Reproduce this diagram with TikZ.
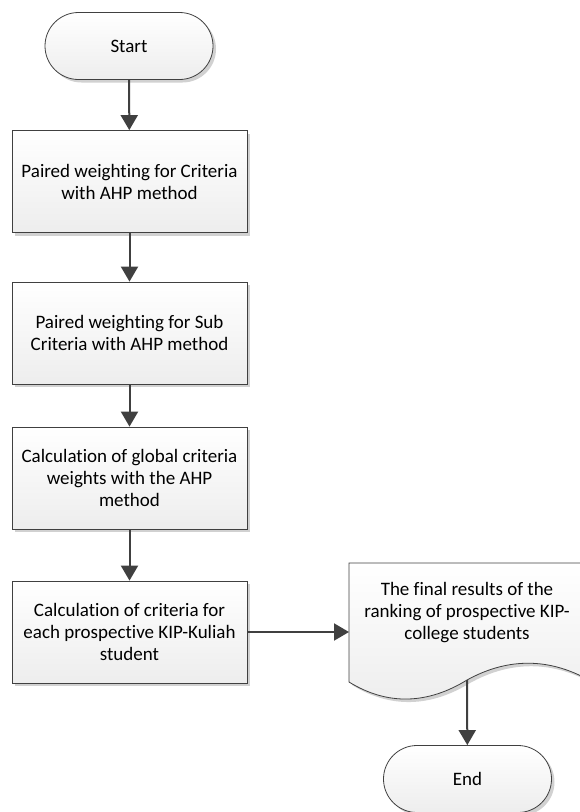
\documentclass[tikz,border=0pt]{standalone}
\usepackage{fontspec}
\setmainfont{Carlito}[Ligatures=NoCommon]
\usetikzlibrary{arrows.meta,shapes.misc,shadows}
\definecolor{edge}{HTML}{404040}
\tikzset{
  every node/.style={font=\fontsize{19}{22}\selectfont, align=center},
  shade/.style={draw=edge, line width=0.8pt, top color=white, bottom color=black!7,
    drop shadow={shadow xshift=3pt, shadow yshift=-3pt, fill=black!18, opacity=1}},
  box/.style={shade, rectangle, minimum width=235pt, minimum height=102pt, inner sep=0pt},
  term/.style={box, rounded rectangle, minimum width=168pt, minimum height=67pt},
  flow/.style={draw=edge, line width=2pt, -{Triangle[length=15pt,width=17pt]}},
}
\begin{document}
\begin{tikzpicture}[x=1pt,y=-1pt]
      \useasboundingbox (0,0) rectangle (579,812);
      \draw
        (129,46) node[term] (start){Start}
        (129.5,181.5) node[box] (crit){Paired weighting for Criteria\\with AHP method}
        (129.5,333) node[box] (sub){Paired weighting for Sub\\Criteria with AHP method}
        (129.5,478) node[box] (glob){Calculation of global criteria\\weights with the AHP\\method}
        (129.5,632) node[box] (calc){Calculation of criteria for\\each prospective KIP-Kuliah\\student}
        (467.5,779) node[term] (end){End};
      % document shape
      \draw[shade] (349,563) -- (585,563) -- (585,678)
        .. controls (545,657) and (505,659) .. (467,680)
        .. controls (428,704) and (388,706) .. (349,682) -- cycle;
      \node (rank) at (467,613) {The final results of the\\ranking of prospective KIP-\\college students};
      \coordinate (rankw) at (349,632);
      \coordinate (ranks) at (467,680);
      \begin{scope}[flow]
        \draw (start) to (crit);
        \draw (crit) to (sub);
        \draw (sub) to (glob);
        \draw (glob) to (calc);
        \draw (calc) to (rankw);
        \draw (ranks) to (end);
      \end{scope}
    \end{tikzpicture}
\end{document}
